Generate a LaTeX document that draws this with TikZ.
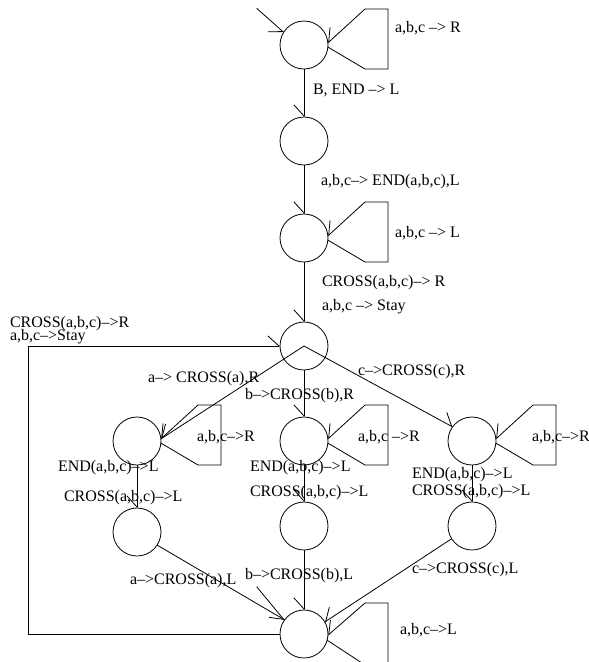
\documentclass[tikz,border=0pt]{standalone}
\usepackage{fontspec}
\setmainfont{Liberation Serif}
\usetikzlibrary{arrows.meta}
\tikzset{
  st/.style={circle, draw, minimum size=48pt, inner sep=0pt, outer sep=0pt},
  lbl/.style={anchor=west, inner sep=0pt, outer sep=0pt, font=\fontsize{16}{16}\selectfont, text height=11pt, text depth=3pt},
  bR/.style={-{Straight Barb[right,length=11pt,width=20pt]}},
  bL/.style={-{Straight Barb[left,length=11pt,width=20pt]}},
  plain/.style={-},
}
\newcommand\mkloop[1]{%
  \draw[bR] (#1.-5) -- ([shift={(61,24)}]#1.center) -- ([shift={(84,24)}]#1.center)
    -- ([shift={(84,-36)}]#1.center) -- ([shift={(61,-36)}]#1.center) -- (#1.5);}
\begin{document}
\begin{tikzpicture}[x=1pt,y=-1pt,line width=0.8pt]
\useasboundingbox (0,0) rectangle (589,662);
\clip (0,0) rectangle (589,662);
% states
\node[st] (s1) at (304,45) {};
\node[st] (s2) at (304,141) {};
\node[st] (s3) at (304,238) {};
\node[st] (s4) at (304,346) {};
\node[st] (l1) at (137,441) {};
\node[st] (m1) at (304,441) {};
\node[st] (r1) at (472,441) {};
\node[st] (l2) at (137,532) {};
\node[st] (m2) at (304,526) {};
\node[st] (r2) at (472,526) {};
\node[st] (bt) at (304,634) {};
% initial arrow
\coordinate (init) at (256.7,8.3);
\draw[bR] (init) -- (s1.148);
% main chain
\draw[bR] (s1) -- (s2);
\draw[bR] (s2) -- (s3);
\draw[bR] (s3) -- (s4);
% self loops
\mkloop{s1}
\mkloop{s3}
\mkloop{l1}
\mkloop{m1}
\mkloop{r1}
\draw[bR] (bt.-15) -- (365,665) -- (388,665) -- (388,603) -- (365,603) -- (bt.-3);
% branches
\draw[bR] (s4.center) -- (l1.5);
\draw[bR] (s4) -- (m1);
\draw[bL] (s4.center) -- (r1.144);
\draw[bR] (l1) -- (l2);
\draw[bR] (m1) -- (m2);
\draw[bR] (r1) -- (r2);
% into bottom state
\draw[plain] (l2.-33) -- (bt.144);
\coordinate (stray) at (256.7,586.7);
\draw[bR] (stray) -- (bt.145);
\draw[bR] (m2) -- (bt);
\draw[bR] (r2.212) -- (bt.30);
% return rectangle
\draw[bL] (bt.west) -- ++(-252,0) |- (s4.west);
% labels
\node[lbl] at (395,28) {a,b,c –> R};
\node[lbl] at (313,90) {B, END –> L};
\node[lbl] at (321,181) {a,b,c–> END(a,b,c),L};
\node[lbl] at (395,233) {a,b,c –> L};
\node[lbl] at (322,282) {CROSS(a,b,c)–> R};
\node[lbl] at (322,306) {a,b,c –> Stay};
\node[lbl] at (10,323) {CROSS(a,b,c)–>R};
\node[lbl] at (10,336) {a,b,c–>Stay};
\node[lbl] at (148,378) {a–> CROSS(a),R};
\node[lbl] at (358,371) {c–>CROSS(c),R};
\node[lbl] at (245,395) {b–>CROSS(b),R};
\node[lbl] at (197,437) {a,b,c–>R};
\node[lbl] at (358,437) {a,b,c –>R};
\node[lbl] at (532,437) {a,b,c–>R};
\node[lbl] at (58,467) {END(a,b,c)–>L};
\node[lbl] at (64,497) {CROSS(a,b,c)–>L};
\node[lbl] at (250,467) {END(a,b,c)–>L};
\node[lbl] at (250,492) {CROSS(a,b,c)–>L};
\node[lbl] at (412,474) {END(a,b,c)–>L};
\node[lbl] at (412,491) {CROSS(a,b,c)–>L};
\node[lbl] at (130,580) {a–>CROSS(a),L};
\node[lbl] at (245,575) {b–>CROSS(b),L};
\node[lbl] at (412,569) {c–>CROSS(c),L};
\node[lbl] at (400,630) {a,b,c–>L};
\end{tikzpicture}
\end{document}
